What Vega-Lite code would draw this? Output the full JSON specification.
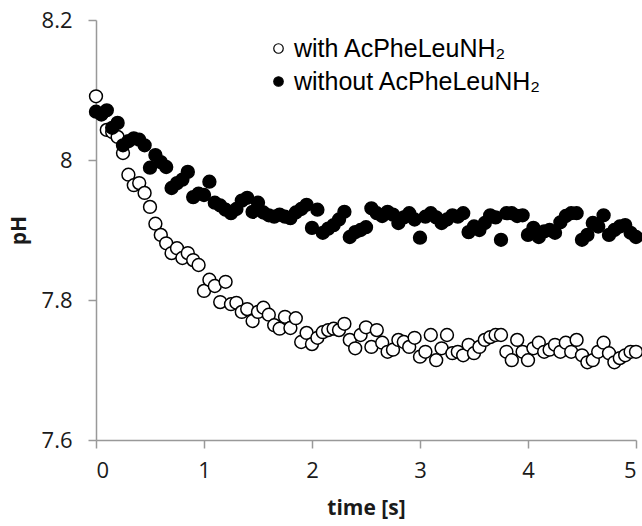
{
  "$schema": "https://vega.github.io/schema/vega-lite/v6.json",
  "width": 540,
  "height": 420,
  "autosize": {"type": "none"},
  "padding": {"left": 96, "top": 20, "right": 6, "bottom": 86},
  "background": "white",
  "config": {
    "view": {"stroke": null},
    "axis": {
      "grid": false,
      "domainColor": "#999999",
      "domainWidth": 1.5,
      "tickColor": "#999999",
      "tickWidth": 1.5,
      "tickSize": 8,
      "labelFont": "Open Sans",
      "labelFontSize": 22,
      "labelColor": "#1a1a1a",
      "titleFont": "Open Sans",
      "titleFontSize": 21,
      "titleFontWeight": "bold",
      "titleColor": "#1a1a1a"
    }
  },
  "data": {
    "values": [
      {"t":0.00,"pH":8.091,"s":"with AcPheLeuNH₂"},
      {"t":0.05,"pH":8.065,"s":"with AcPheLeuNH₂"},
      {"t":0.10,"pH":8.043,"s":"with AcPheLeuNH₂"},
      {"t":0.15,"pH":8.040,"s":"with AcPheLeuNH₂"},
      {"t":0.20,"pH":8.033,"s":"with AcPheLeuNH₂"},
      {"t":0.25,"pH":8.010,"s":"with AcPheLeuNH₂"},
      {"t":0.30,"pH":7.979,"s":"with AcPheLeuNH₂"},
      {"t":0.35,"pH":7.964,"s":"with AcPheLeuNH₂"},
      {"t":0.40,"pH":7.967,"s":"with AcPheLeuNH₂"},
      {"t":0.45,"pH":7.953,"s":"with AcPheLeuNH₂"},
      {"t":0.50,"pH":7.933,"s":"with AcPheLeuNH₂"},
      {"t":0.55,"pH":7.909,"s":"with AcPheLeuNH₂"},
      {"t":0.60,"pH":7.893,"s":"with AcPheLeuNH₂"},
      {"t":0.65,"pH":7.881,"s":"with AcPheLeuNH₂"},
      {"t":0.70,"pH":7.867,"s":"with AcPheLeuNH₂"},
      {"t":0.75,"pH":7.874,"s":"with AcPheLeuNH₂"},
      {"t":0.80,"pH":7.860,"s":"with AcPheLeuNH₂"},
      {"t":0.85,"pH":7.867,"s":"with AcPheLeuNH₂"},
      {"t":0.90,"pH":7.857,"s":"with AcPheLeuNH₂"},
      {"t":0.95,"pH":7.850,"s":"with AcPheLeuNH₂"},
      {"t":1.00,"pH":7.813,"s":"with AcPheLeuNH₂"},
      {"t":1.05,"pH":7.829,"s":"with AcPheLeuNH₂"},
      {"t":1.10,"pH":7.820,"s":"with AcPheLeuNH₂"},
      {"t":1.15,"pH":7.797,"s":"with AcPheLeuNH₂"},
      {"t":1.20,"pH":7.826,"s":"with AcPheLeuNH₂"},
      {"t":1.25,"pH":7.794,"s":"with AcPheLeuNH₂"},
      {"t":1.30,"pH":7.796,"s":"with AcPheLeuNH₂"},
      {"t":1.35,"pH":7.783,"s":"with AcPheLeuNH₂"},
      {"t":1.40,"pH":7.787,"s":"with AcPheLeuNH₂"},
      {"t":1.45,"pH":7.770,"s":"with AcPheLeuNH₂"},
      {"t":1.50,"pH":7.783,"s":"with AcPheLeuNH₂"},
      {"t":1.55,"pH":7.789,"s":"with AcPheLeuNH₂"},
      {"t":1.60,"pH":7.779,"s":"with AcPheLeuNH₂"},
      {"t":1.65,"pH":7.764,"s":"with AcPheLeuNH₂"},
      {"t":1.70,"pH":7.759,"s":"with AcPheLeuNH₂"},
      {"t":1.75,"pH":7.776,"s":"with AcPheLeuNH₂"},
      {"t":1.80,"pH":7.760,"s":"with AcPheLeuNH₂"},
      {"t":1.85,"pH":7.774,"s":"with AcPheLeuNH₂"},
      {"t":1.90,"pH":7.740,"s":"with AcPheLeuNH₂"},
      {"t":1.95,"pH":7.753,"s":"with AcPheLeuNH₂"},
      {"t":2.00,"pH":7.737,"s":"with AcPheLeuNH₂"},
      {"t":2.05,"pH":7.746,"s":"with AcPheLeuNH₂"},
      {"t":2.10,"pH":7.754,"s":"with AcPheLeuNH₂"},
      {"t":2.15,"pH":7.757,"s":"with AcPheLeuNH₂"},
      {"t":2.20,"pH":7.759,"s":"with AcPheLeuNH₂"},
      {"t":2.25,"pH":7.757,"s":"with AcPheLeuNH₂"},
      {"t":2.30,"pH":7.766,"s":"with AcPheLeuNH₂"},
      {"t":2.35,"pH":7.743,"s":"with AcPheLeuNH₂"},
      {"t":2.40,"pH":7.731,"s":"with AcPheLeuNH₂"},
      {"t":2.45,"pH":7.750,"s":"with AcPheLeuNH₂"},
      {"t":2.50,"pH":7.761,"s":"with AcPheLeuNH₂"},
      {"t":2.55,"pH":7.733,"s":"with AcPheLeuNH₂"},
      {"t":2.60,"pH":7.757,"s":"with AcPheLeuNH₂"},
      {"t":2.65,"pH":7.739,"s":"with AcPheLeuNH₂"},
      {"t":2.70,"pH":7.726,"s":"with AcPheLeuNH₂"},
      {"t":2.75,"pH":7.729,"s":"with AcPheLeuNH₂"},
      {"t":2.80,"pH":7.743,"s":"with AcPheLeuNH₂"},
      {"t":2.85,"pH":7.740,"s":"with AcPheLeuNH₂"},
      {"t":2.90,"pH":7.733,"s":"with AcPheLeuNH₂"},
      {"t":2.95,"pH":7.746,"s":"with AcPheLeuNH₂"},
      {"t":3.00,"pH":7.719,"s":"with AcPheLeuNH₂"},
      {"t":3.05,"pH":7.726,"s":"with AcPheLeuNH₂"},
      {"t":3.10,"pH":7.750,"s":"with AcPheLeuNH₂"},
      {"t":3.15,"pH":7.714,"s":"with AcPheLeuNH₂"},
      {"t":3.20,"pH":7.731,"s":"with AcPheLeuNH₂"},
      {"t":3.25,"pH":7.750,"s":"with AcPheLeuNH₂"},
      {"t":3.30,"pH":7.724,"s":"with AcPheLeuNH₂"},
      {"t":3.35,"pH":7.726,"s":"with AcPheLeuNH₂"},
      {"t":3.40,"pH":7.721,"s":"with AcPheLeuNH₂"},
      {"t":3.45,"pH":7.736,"s":"with AcPheLeuNH₂"},
      {"t":3.50,"pH":7.724,"s":"with AcPheLeuNH₂"},
      {"t":3.55,"pH":7.733,"s":"with AcPheLeuNH₂"},
      {"t":3.60,"pH":7.743,"s":"with AcPheLeuNH₂"},
      {"t":3.65,"pH":7.747,"s":"with AcPheLeuNH₂"},
      {"t":3.70,"pH":7.750,"s":"with AcPheLeuNH₂"},
      {"t":3.75,"pH":7.750,"s":"with AcPheLeuNH₂"},
      {"t":3.80,"pH":7.726,"s":"with AcPheLeuNH₂"},
      {"t":3.85,"pH":7.714,"s":"with AcPheLeuNH₂"},
      {"t":3.90,"pH":7.743,"s":"with AcPheLeuNH₂"},
      {"t":3.95,"pH":7.726,"s":"with AcPheLeuNH₂"},
      {"t":4.00,"pH":7.714,"s":"with AcPheLeuNH₂"},
      {"t":4.05,"pH":7.731,"s":"with AcPheLeuNH₂"},
      {"t":4.10,"pH":7.739,"s":"with AcPheLeuNH₂"},
      {"t":4.15,"pH":7.726,"s":"with AcPheLeuNH₂"},
      {"t":4.20,"pH":7.729,"s":"with AcPheLeuNH₂"},
      {"t":4.25,"pH":7.736,"s":"with AcPheLeuNH₂"},
      {"t":4.30,"pH":7.726,"s":"with AcPheLeuNH₂"},
      {"t":4.35,"pH":7.739,"s":"with AcPheLeuNH₂"},
      {"t":4.40,"pH":7.726,"s":"with AcPheLeuNH₂"},
      {"t":4.45,"pH":7.743,"s":"with AcPheLeuNH₂"},
      {"t":4.50,"pH":7.721,"s":"with AcPheLeuNH₂"},
      {"t":4.55,"pH":7.711,"s":"with AcPheLeuNH₂"},
      {"t":4.60,"pH":7.714,"s":"with AcPheLeuNH₂"},
      {"t":4.65,"pH":7.726,"s":"with AcPheLeuNH₂"},
      {"t":4.70,"pH":7.739,"s":"with AcPheLeuNH₂"},
      {"t":4.75,"pH":7.724,"s":"with AcPheLeuNH₂"},
      {"t":4.80,"pH":7.711,"s":"with AcPheLeuNH₂"},
      {"t":4.85,"pH":7.717,"s":"with AcPheLeuNH₂"},
      {"t":4.90,"pH":7.721,"s":"with AcPheLeuNH₂"},
      {"t":4.95,"pH":7.726,"s":"with AcPheLeuNH₂"},
      {"t":5.00,"pH":7.726,"s":"with AcPheLeuNH₂"},
      {"t":0.00,"pH":8.069,"s":"without AcPheLeuNH₂"},
      {"t":0.05,"pH":8.066,"s":"without AcPheLeuNH₂"},
      {"t":0.10,"pH":8.071,"s":"without AcPheLeuNH₂"},
      {"t":0.15,"pH":8.046,"s":"without AcPheLeuNH₂"},
      {"t":0.20,"pH":8.053,"s":"without AcPheLeuNH₂"},
      {"t":0.25,"pH":8.021,"s":"without AcPheLeuNH₂"},
      {"t":0.30,"pH":8.027,"s":"without AcPheLeuNH₂"},
      {"t":0.35,"pH":8.031,"s":"without AcPheLeuNH₂"},
      {"t":0.40,"pH":8.029,"s":"without AcPheLeuNH₂"},
      {"t":0.45,"pH":8.021,"s":"without AcPheLeuNH₂"},
      {"t":0.50,"pH":7.989,"s":"without AcPheLeuNH₂"},
      {"t":0.55,"pH":8.007,"s":"without AcPheLeuNH₂"},
      {"t":0.60,"pH":7.997,"s":"without AcPheLeuNH₂"},
      {"t":0.65,"pH":7.990,"s":"without AcPheLeuNH₂"},
      {"t":0.70,"pH":7.960,"s":"without AcPheLeuNH₂"},
      {"t":0.75,"pH":7.967,"s":"without AcPheLeuNH₂"},
      {"t":0.80,"pH":7.972,"s":"without AcPheLeuNH₂"},
      {"t":0.85,"pH":7.983,"s":"without AcPheLeuNH₂"},
      {"t":0.90,"pH":7.947,"s":"without AcPheLeuNH₂"},
      {"t":0.95,"pH":7.952,"s":"without AcPheLeuNH₂"},
      {"t":1.00,"pH":7.950,"s":"without AcPheLeuNH₂"},
      {"t":1.05,"pH":7.969,"s":"without AcPheLeuNH₂"},
      {"t":1.10,"pH":7.939,"s":"without AcPheLeuNH₂"},
      {"t":1.15,"pH":7.935,"s":"without AcPheLeuNH₂"},
      {"t":1.20,"pH":7.929,"s":"without AcPheLeuNH₂"},
      {"t":1.25,"pH":7.924,"s":"without AcPheLeuNH₂"},
      {"t":1.30,"pH":7.930,"s":"without AcPheLeuNH₂"},
      {"t":1.35,"pH":7.942,"s":"without AcPheLeuNH₂"},
      {"t":1.40,"pH":7.946,"s":"without AcPheLeuNH₂"},
      {"t":1.45,"pH":7.926,"s":"without AcPheLeuNH₂"},
      {"t":1.50,"pH":7.939,"s":"without AcPheLeuNH₂"},
      {"t":1.55,"pH":7.925,"s":"without AcPheLeuNH₂"},
      {"t":1.60,"pH":7.921,"s":"without AcPheLeuNH₂"},
      {"t":1.65,"pH":7.919,"s":"without AcPheLeuNH₂"},
      {"t":1.70,"pH":7.922,"s":"without AcPheLeuNH₂"},
      {"t":1.75,"pH":7.919,"s":"without AcPheLeuNH₂"},
      {"t":1.80,"pH":7.917,"s":"without AcPheLeuNH₂"},
      {"t":1.85,"pH":7.925,"s":"without AcPheLeuNH₂"},
      {"t":1.90,"pH":7.930,"s":"without AcPheLeuNH₂"},
      {"t":1.95,"pH":7.936,"s":"without AcPheLeuNH₂"},
      {"t":2.00,"pH":7.903,"s":"without AcPheLeuNH₂"},
      {"t":2.05,"pH":7.929,"s":"without AcPheLeuNH₂"},
      {"t":2.10,"pH":7.896,"s":"without AcPheLeuNH₂"},
      {"t":2.15,"pH":7.902,"s":"without AcPheLeuNH₂"},
      {"t":2.20,"pH":7.907,"s":"without AcPheLeuNH₂"},
      {"t":2.25,"pH":7.915,"s":"without AcPheLeuNH₂"},
      {"t":2.30,"pH":7.926,"s":"without AcPheLeuNH₂"},
      {"t":2.35,"pH":7.890,"s":"without AcPheLeuNH₂"},
      {"t":2.40,"pH":7.897,"s":"without AcPheLeuNH₂"},
      {"t":2.45,"pH":7.900,"s":"without AcPheLeuNH₂"},
      {"t":2.50,"pH":7.904,"s":"without AcPheLeuNH₂"},
      {"t":2.55,"pH":7.931,"s":"without AcPheLeuNH₂"},
      {"t":2.60,"pH":7.924,"s":"without AcPheLeuNH₂"},
      {"t":2.65,"pH":7.920,"s":"without AcPheLeuNH₂"},
      {"t":2.70,"pH":7.926,"s":"without AcPheLeuNH₂"},
      {"t":2.75,"pH":7.922,"s":"without AcPheLeuNH₂"},
      {"t":2.80,"pH":7.910,"s":"without AcPheLeuNH₂"},
      {"t":2.85,"pH":7.918,"s":"without AcPheLeuNH₂"},
      {"t":2.90,"pH":7.924,"s":"without AcPheLeuNH₂"},
      {"t":2.95,"pH":7.915,"s":"without AcPheLeuNH₂"},
      {"t":3.00,"pH":7.889,"s":"without AcPheLeuNH₂"},
      {"t":3.05,"pH":7.919,"s":"without AcPheLeuNH₂"},
      {"t":3.10,"pH":7.924,"s":"without AcPheLeuNH₂"},
      {"t":3.15,"pH":7.918,"s":"without AcPheLeuNH₂"},
      {"t":3.20,"pH":7.910,"s":"without AcPheLeuNH₂"},
      {"t":3.25,"pH":7.915,"s":"without AcPheLeuNH₂"},
      {"t":3.30,"pH":7.921,"s":"without AcPheLeuNH₂"},
      {"t":3.35,"pH":7.919,"s":"without AcPheLeuNH₂"},
      {"t":3.40,"pH":7.924,"s":"without AcPheLeuNH₂"},
      {"t":3.45,"pH":7.897,"s":"without AcPheLeuNH₂"},
      {"t":3.50,"pH":7.905,"s":"without AcPheLeuNH₂"},
      {"t":3.55,"pH":7.900,"s":"without AcPheLeuNH₂"},
      {"t":3.60,"pH":7.910,"s":"without AcPheLeuNH₂"},
      {"t":3.65,"pH":7.921,"s":"without AcPheLeuNH₂"},
      {"t":3.70,"pH":7.918,"s":"without AcPheLeuNH₂"},
      {"t":3.75,"pH":7.886,"s":"without AcPheLeuNH₂"},
      {"t":3.80,"pH":7.924,"s":"without AcPheLeuNH₂"},
      {"t":3.85,"pH":7.924,"s":"without AcPheLeuNH₂"},
      {"t":3.90,"pH":7.920,"s":"without AcPheLeuNH₂"},
      {"t":3.95,"pH":7.921,"s":"without AcPheLeuNH₂"},
      {"t":4.00,"pH":7.893,"s":"without AcPheLeuNH₂"},
      {"t":4.05,"pH":7.903,"s":"without AcPheLeuNH₂"},
      {"t":4.10,"pH":7.890,"s":"without AcPheLeuNH₂"},
      {"t":4.15,"pH":7.898,"s":"without AcPheLeuNH₂"},
      {"t":4.20,"pH":7.900,"s":"without AcPheLeuNH₂"},
      {"t":4.25,"pH":7.896,"s":"without AcPheLeuNH₂"},
      {"t":4.30,"pH":7.911,"s":"without AcPheLeuNH₂"},
      {"t":4.35,"pH":7.920,"s":"without AcPheLeuNH₂"},
      {"t":4.40,"pH":7.924,"s":"without AcPheLeuNH₂"},
      {"t":4.45,"pH":7.924,"s":"without AcPheLeuNH₂"},
      {"t":4.50,"pH":7.886,"s":"without AcPheLeuNH₂"},
      {"t":4.55,"pH":7.893,"s":"without AcPheLeuNH₂"},
      {"t":4.60,"pH":7.910,"s":"without AcPheLeuNH₂"},
      {"t":4.65,"pH":7.905,"s":"without AcPheLeuNH₂"},
      {"t":4.70,"pH":7.921,"s":"without AcPheLeuNH₂"},
      {"t":4.75,"pH":7.893,"s":"without AcPheLeuNH₂"},
      {"t":4.80,"pH":7.900,"s":"without AcPheLeuNH₂"},
      {"t":4.85,"pH":7.905,"s":"without AcPheLeuNH₂"},
      {"t":4.90,"pH":7.907,"s":"without AcPheLeuNH₂"},
      {"t":4.95,"pH":7.896,"s":"without AcPheLeuNH₂"},
      {"t":5.00,"pH":7.890,"s":"without AcPheLeuNH₂"}
    ]
  },
  "mark": {"type": "point", "shape": "circle", "filled": true, "stroke": "black", "strokeWidth": 1.5, "size": 165, "opacity": 1, "clip": false},
  "encoding": {
    "x": {
      "field": "t", "type": "quantitative",
      "scale": {"domain": [0, 5], "nice": false, "zero": false},
      "axis": {"values": [0, 1, 2, 3, 4, 5], "title": "time [s]", "labelPadding": 12, "titlePadding": 16, "format": "d"}
    },
    "y": {
      "field": "pH", "type": "quantitative",
      "scale": {"domain": [7.6, 8.2], "nice": false, "zero": false},
      "axis": {"values": [7.6, 7.8, 8.0, 8.2], "title": "pH", "format": ".1~f", "labelPadding": 16, "titlePadding": 12}
    },
    "fill": {
      "field": "s", "type": "nominal",
      "scale": {"domain": ["with AcPheLeuNH₂", "without AcPheLeuNH₂"], "range": ["white", "black"]},
      "legend": {
        "title": null,
        "orient": "none",
        "legendX": 170,
        "legendY": 16,
        "symbolType": "circle",
        "symbolSize": 90,
        "symbolStrokeColor": "black",
        "symbolStrokeWidth": 1.2,
        "labelFont": "Liberation Sans",
        "labelFontSize": 25,
        "labelColor": "black",
        "labelLimit": 400,
        "labelOffset": 3,
        "rowPadding": 7,
        "padding": 0
      }
    }
  }
}
